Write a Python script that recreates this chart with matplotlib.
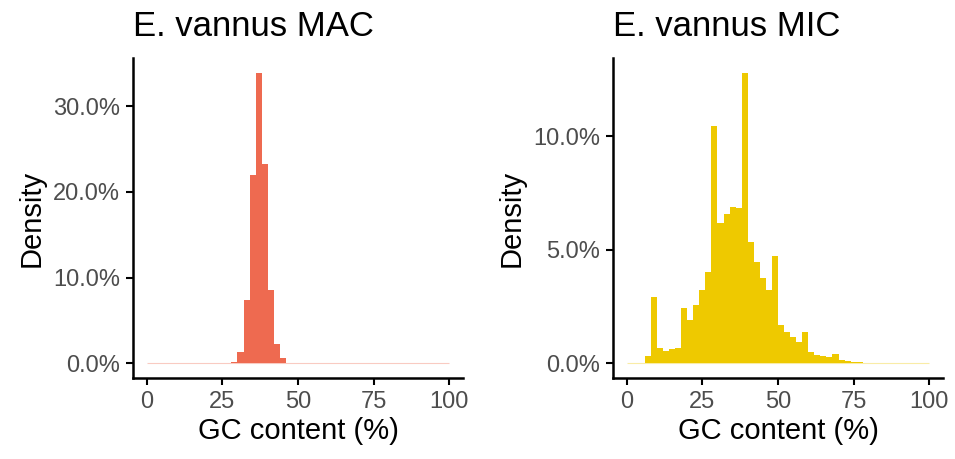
import matplotlib
matplotlib.use("Agg")
import matplotlib.pyplot as plt
from matplotlib.ticker import FuncFormatter
import numpy as np

plt.rcParams['font.family'] = ['Liberation Sans', 'DejaVu Sans']

# Bin edges: 0..100, width 2 (GC content %)
bin_edges = list(range(0, 102, 2))

# MAC: percentage of sequences per bin
mac_values = [0.0] * 14 + [0.2, 1.36, 7.4, 22.0, 33.9, 23.3, 8.6, 2.3, 0.66, 0.1, 0.05, 0.03] + [0.0] * 24

# MIC: percentage of sequences per bin
mic_values = [0.02, 0.02, 0.03, 0.34, 2.94, 0.66, 0.56, 0.62, 0.69, 2.42,
              1.91, 2.57, 3.23, 4.01, 10.45, 6.17, 6.56, 6.90, 6.86, 12.8,
              5.33, 4.48, 3.74, 3.23, 4.73, 1.69, 1.37, 1.17, 0.93, 1.37,
              0.51, 0.38, 0.35, 0.29, 0.41, 0.15, 0.10, 0.07, 0.07, 0.04,
              0.02, 0.02, 0.02, 0.02, 0.02, 0.02, 0.02, 0.02, 0.02, 0.02]

titles = ["E. vannus MAC", "E. vannus MIC"]
colors = ["#EE6A50", "#EEC900"]
yticks = [[0, 10, 20, 30], [0, 5, 10]]
xticks = [0, 25, 50, 75, 100]

W, H = 955, 459
fig = plt.figure(figsize=(W / 100, H / 100), dpi=100)

axes_px = [(133, 58, 463, 378), (613, 58, 943, 378)]

for (x0, y0, x1, y1), vals, title, col, yt in zip(axes_px, [mac_values, mic_values], titles, colors, yticks):
    ax = fig.add_axes([x0 / W, 1 - y1 / H, (x1 - x0) / W, (y1 - y0) / H])
    edges = np.array(bin_edges, dtype=float)
    v = np.array(vals, dtype=float)
    ax.bar(edges[:-1], v, width=np.diff(edges), align='edge', color=col, linewidth=0)
    ax.hlines(0, edges[0], edges[-1], color=col, alpha=0.35, linewidth=0.8)
    span = edges[-1] - edges[0]
    ax.set_xlim(edges[0] - 0.045 * span, edges[-1] + 0.045 * span)
    vmax = v.max()
    ax.set_ylim(-0.05 * vmax, 1.05 * vmax)
    ax.set_xticks(xticks)
    ax.set_yticks(yt)
    ax.yaxis.set_major_formatter(FuncFormatter(lambda y, p: f"{y:.1f}%"))
    for s in ['top', 'right']:
        ax.spines[s].set_visible(False)
    for s in ['left', 'bottom']:
        ax.spines[s].set_linewidth(1.8)
    ax.tick_params(axis='both', length=5, width=1.5, labelsize=17, labelcolor='#4d4d4d', pad=4.5)
    ax.set_xlabel("GC content (%)", fontsize=21, labelpad=3)
    ax.set_ylabel("Density", fontsize=21, labelpad=5)
    ax.set_title(title, loc='left', fontsize=25, pad=16)

fig.savefig("out.png", dpi=100)
